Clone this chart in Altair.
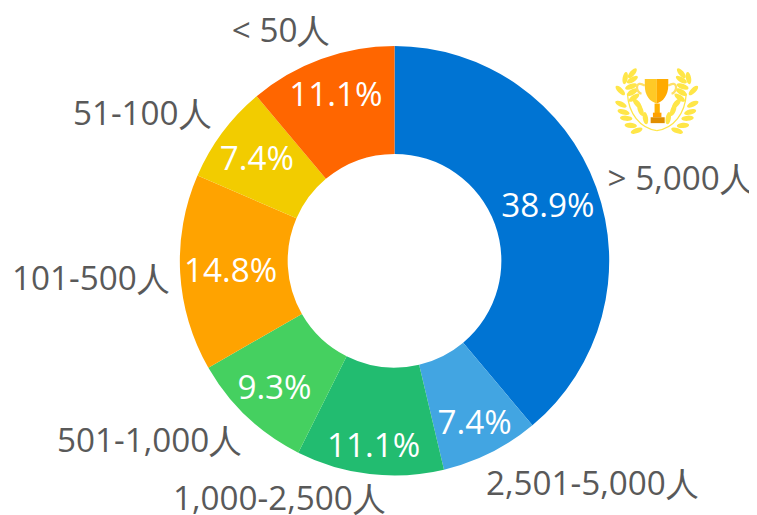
import altair as alt
import pandas as pd
import math
import base64

cats = ["> 5,000人", "2,501-5,000人", "1,000-2,500人", "501-1,000人", "101-500人", "51-100人", "< 50人"]
vals = [38.9, 7.4, 11.1, 9.3, 14.8, 7.4, 11.1]
pct = ["38.9%", "7.4%", "11.1%", "9.3%", "14.8%", "7.4%", "11.1%"]
cols = ["#0074D3", "#42A5E2", "#22BC70", "#45D060", "#FFA300", "#F2CC00", "#FF6600"]

# label layout: alignment and nudges away from the slice's radial anchor
out_align = ["left", "left", "right", "right", "right", "right", "right"]
out_dx = [-5.5, -13, 18.5, 7.5, 7.5, 3.5, 15.5]
out_dy = [-1, 16.5, 8.5, 12.5, 6, -7, -10]
in_dx = [0, 7, -2, -8, -1, -7, -3]
in_dy = [2, 18, 24, 10, 2, -3, -11]

df = pd.DataFrame({"cat": cats, "val": vals, "pct": pct, "o": list(range(7))})
CX, CY = 390.7, 252.7
theta = alt.Theta("val:Q", stack=True, scale=alt.Scale(domain=[0, sum(vals)], range=[0, 2 * math.pi]))
base = alt.Chart(df).encode(theta=theta, order=alt.Order("o:Q"), x=alt.value(CX), y=alt.value(CY))
layers = [base.mark_arc(innerRadius=108, outerRadius=217).encode(
    color=alt.Color("cat:N", sort=cats, scale=alt.Scale(domain=cats, range=cols), legend=None)
)]
font = "Open Sans"
for i in range(7):
    sel = alt.datum.o == i
    layers.append(base.mark_text(radius=165, font=font, fontSize=33.6, color="white", dx=in_dx[i], dy=in_dy[i]).encode(
        text="pct:N",
        opacity=alt.condition(sel, alt.value(1), alt.value(0))))
    layers.append(base.mark_text(radius=235, font=font, fontSize=33.6, color="#595959", align=out_align[i], dx=out_dx[i], dy=out_dy[i]).encode(
        text="cat:N",
        opacity=alt.condition(sel, alt.value(1), alt.value(0))))

outer = [(97,67,-50),(75,82,-80),(60,120,45),(62,162,25),(70,186,15),(78,205,5),(92,227,5),(110,243,-20)]
inner = [(97,87,-30),(93,108,-20),(97,125,-30),(102,142,-35),(112,160,50),(122,180,70),(137,205,80)]
leaves = ""
for (x, y, a) in outer + inner:
    leaves += f'<ellipse cx="{x}" cy="{y}" rx="19" ry="8" fill="#FFE648" transform="rotate({a} {x} {y})"/>'
branch = f'<g>{leaves}<path d="M82 130 C85 190 120 235 172 243" fill="none" stroke="#FFE648" stroke-width="4"/></g>'
svg = ('<svg xmlns="http://www.w3.org/2000/svg" viewBox="0 0 360 300" width="120" height="100">'
       + branch + f'<g transform="translate(344,0) scale(-1,1)">{branch}</g>'
       + '<path d="M135 105 C105 85 105 125 125 130 M207 105 C237 85 237 125 217 130" fill="none" stroke="#FFE066" stroke-width="7"/>'
       + '<path d="M135 85 H172 V160 C150 155 135 135 135 105Z" fill="#FFC926"/>'
       + '<path d="M172 85 H207 V105 C207 135 190 155 172 160Z" fill="#FFAA00"/>'
       + '<rect x="165" y="160" width="16" height="32" fill="#FFB000"/>'
       + '<rect x="160" y="188" width="26" height="14" fill="#FFA000"/>'
       + '<rect x="153" y="202" width="43" height="18" fill="#E08E00"/>'
       + '</svg>')
uri = "data:image/svg+xml;base64," + base64.b64encode(svg.encode()).decode()
trophy = alt.Chart(pd.DataFrame({"a": [1]})).mark_image(url=uri, width=119, height=99, align="left", baseline="top").encode(
    x=alt.value(599), y=alt.value(41))
layers.append(trophy)

chart = alt.layer(*layers).properties(
    width=749, height=515, padding=0, autosize=alt.AutoSizeParams(type="none")
).configure_view(stroke=None)
chart.save("out.html", embed_options={"renderer": "svg", "actions": False})
